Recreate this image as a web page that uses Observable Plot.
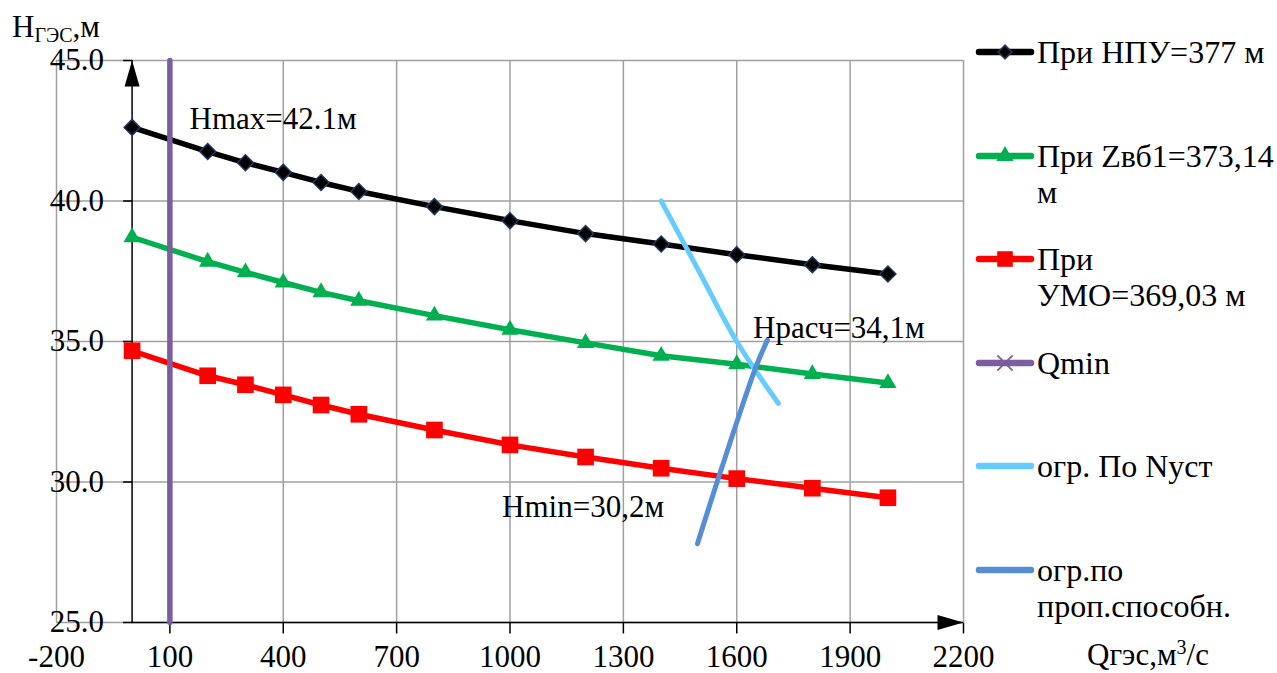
<!DOCTYPE html>
<html><head><meta charset="utf-8">
<script src="https://cdn.jsdelivr.net/npm/d3@7"></script>
<script src="https://cdn.jsdelivr.net/npm/@observablehq/plot@0.6"></script>
<style>
html,body{margin:0;padding:0;background:#fff;overflow:hidden}
#wrap{position:relative;width:1277px;height:673px;font-family:"Liberation Serif","Times New Roman",Tinos,"DejaVu Serif",serif;color:#000}
#wrap > svg{position:absolute;left:0;top:0}
.lg-row{position:absolute;left:975px;width:302px;height:80px}
.lg-row svg{position:absolute;left:0;top:0}
.lg-text{position:absolute;left:62px;top:0;font-size:32px;line-height:36px;white-space:nowrap}
.ttl{position:absolute;font-size:31px;line-height:30px;height:30px;white-space:nowrap}
.ttl span{line-height:0}
</style></head><body><div id="wrap"></div>
<script>
// ---- data ----
const qValues = [0, 200, 300, 400, 500, 600, 800, 1000, 1200, 1400, 1600, 1800, 2000];
const hNPU  = [42.62, 41.76, 41.36, 41.02, 40.66, 40.34, 39.80, 39.30, 38.84, 38.47, 38.09, 37.73, 37.40];
const hZvb1 = [38.71, 37.84, 37.46, 37.10, 36.75, 36.45, 35.92, 35.42, 34.95, 34.49, 34.19, 33.84, 33.52];
const hUMO  = [34.67, 33.78, 33.46, 33.10, 32.74, 32.41, 31.85, 31.32, 30.89, 30.49, 30.12, 29.78, 29.44];
const qminX = [100, 100];
const qminY = [25, 45];
const nustX = [1400, 1500, 1600, 1710];
const nustY = [40.0, 37.5, 35.0, 32.8];
const propX = [1496, 1552, 1650, 1681];
const propY = [27.8, 30.16, 34.07, 35.05];
const xTicks = [-200, 100, 400, 700, 1000, 1300, 1600, 1900, 2200];
const xTickMarks = [100, 400, 700, 1000, 1300, 1600, 1900, 2200];
const yTicks = [25, 30, 35, 40, 45];
const annX = [152, 1643, 979];
const annY = [42.9, 35.49, 29.12];
const annText = ["Hmax=42.1м", "Hрасч=34,1м", "Hmin=30,2м"];
const seriesNames = ["При НПУ=377 м", "При Zвб1=373,14 м", "При УМО=369,03 м", "Qmin", "огр. По Nуст", "огр.по проп.способн."];
const legendLines = [["При НПУ=377 м"], ["При Zвб1=373,14", "м"], ["При", "УМО=369,03 м"], ["Qmin"], ["огр. По Nуст"], ["огр.по", "проп.способн."]];
const seriesColors = ["#000000", "#00B050", "#FF0000", "#7B5E9E", "#66CCFF", "#558ED5"];

// ---- helpers ----
const FONT = "'Liberation Serif', 'Times New Roman', Tinos, 'DejaVu Serif', serif";
const GRID = "#a0a0a0";
const pts = (xs, ys) => xs.map((x, i) => ({x, y: ys[i]}));
const hTick = {draw(c) { c.moveTo(-9, 0); c.lineTo(0, 0); }};
const vTick = {draw(c) { c.moveTo(0, 0); c.lineTo(0, 11); }};
const arrowSym = {draw(c) { c.moveTo(0, 0); c.lineTo(7.5, 26); c.lineTo(-7.5, 26); c.closePath(); }};
const symX = d3.symbolTimes || d3.symbolX;

const sNPU = pts(qValues, hNPU), sZ = pts(qValues, hZvb1), sU = pts(qValues, hUMO);
const sQ = pts(qminX, qminY), sN = pts(nustX, nustY), sP = pts(propX, propY);
const lw = 5.5;

const chart = Plot.plot({
  width: 1277, height: 673,
  marginLeft: 56, marginRight: 314, marginTop: 60, marginBottom: 51,
  x: {domain: [-200, 2200], axis: null},
  y: {domain: [25, 45], axis: null},
  style: {fontFamily: FONT, background: "transparent", overflow: "visible"},
  marks: [
    Plot.ruleX(xTicks, {stroke: GRID, strokeWidth: 1.5}),
    Plot.ruleY(yTicks, {stroke: GRID, strokeWidth: 1.5}),
    Plot.ruleX([0], {y1: 25, y2: 45, stroke: "black", strokeWidth: 1.5}),
    Plot.ruleY([25], {x1: 0, x2: 2200, stroke: "black", strokeWidth: 1.5}),
    Plot.dot(yTicks, {x: 0, y: d => d, symbol: hTick, r: 5, fill: "none", stroke: "black", strokeWidth: 1.5}),
    Plot.dot(xTickMarks, {x: d => d, y: 25, symbol: vTick, r: 5, fill: "none", stroke: "black", strokeWidth: 1.5}),
    Plot.dot([45], {x: 0, y: d => d, symbol: arrowSym, r: 5, fill: "black", stroke: "none"}),
    Plot.dot([2200], {x: d => d, y: 25, symbol: arrowSym, rotate: 90, r: 5, fill: "black", stroke: "none"}),
    Plot.text(yTicks, {x: 0, y: d => d, dx: -28, text: d => d.toFixed(1), textAnchor: "end", lineAnchor: "middle", fontSize: 31, fontFamily: FONT, fill: "black"}),
    Plot.text(xTicks, {x: d => d, y: 25, dy: 35, text: d => String(d), textAnchor: "middle", lineAnchor: "middle", fontSize: 31, fontFamily: FONT, fill: "black"}),
    // series
    Plot.line(sNPU, {x: "x", y: "y", stroke: seriesColors[0], strokeWidth: lw}),
    Plot.dot(sNPU, {x: "x", y: "y", symbol: "diamond2", r: 7.2, fill: "black", stroke: "#1F3A5F", strokeWidth: 1.5}),
    Plot.line(sZ, {x: "x", y: "y", stroke: seriesColors[1], strokeWidth: lw}),
    Plot.dot(sZ, {x: "x", y: "y", symbol: "triangle", r: 6.4, fill: seriesColors[1], stroke: "none"}),
    Plot.line(sU, {x: "x", y: "y", stroke: seriesColors[2], strokeWidth: lw}),
    Plot.dot(sU, {x: "x", y: "y", symbol: "square", r: 9.4, fill: seriesColors[2], stroke: "none"}),
    Plot.line(sQ, {x: "x", y: "y", stroke: seriesColors[3], strokeWidth: lw}),
    Plot.line(sN, {x: "x", y: "y", stroke: seriesColors[4], strokeWidth: 5, curve: "catmull-rom", strokeLinecap: "round"}),
    Plot.line(sP, {x: "x", y: "y", stroke: seriesColors[5], strokeWidth: 5, curve: "catmull-rom", strokeLinecap: "round"}),
    Plot.text(annText, {x: (d, i) => annX[i], y: (d, i) => annY[i], text: d => d, textAnchor: "start", lineAnchor: "middle", fontSize: 31, fontFamily: FONT, fill: "black"})
  ]
});
const wrap = document.getElementById("wrap");
wrap.appendChild(chart);

// ---- axis titles ----
const yT = document.createElement("div");
yT.className = "ttl"; yT.style.left = "12px"; yT.style.top = "12px";
yT.innerHTML = 'H<span style="font-size:20px;vertical-align:-5px">ГЭС</span>,м';
wrap.appendChild(yT);
const xT = document.createElement("div");
xT.className = "ttl"; xT.style.left = "1087px"; xT.style.top = "640px";
xT.innerHTML = 'Qгэс,м<span style="font-size:20px;vertical-align:11px">3</span>/с';
wrap.appendChild(xT);

// ---- legend ----
const legendSymbols = [d3.symbolDiamond2, d3.symbolTriangle, d3.symbolSquare, symX, null, null];
const legendR = [6.2, 6.4, 8.8, 7, 0, 0];
const rowStart = 52, rowStep = 103.6;
seriesNames.forEach((name, i) => {
  const row = document.createElement("div");
  row.className = "lg-row";
  row.style.top = (rowStart + i * rowStep - 18) + "px";
  const sw = d3.create("svg").attr("width", 60).attr("height", 36);
  sw.append("line").attr("x1", 4).attr("x2", 56).attr("y1", 18).attr("y2", 18)
    .attr("stroke", seriesColors[i]).attr("stroke-width", 6.5).attr("stroke-linecap", "round");
  const sym = legendSymbols[i];
  if (sym) {
    const p = sw.append("path").attr("transform", "translate(30,18)")
      .attr("d", d3.symbol(sym, Math.PI * legendR[i] * legendR[i])());
    if (i === 0) p.attr("fill", "black").attr("stroke", "#1F3A5F").attr("stroke-width", 1.5);
    else if (i === 3) p.attr("fill", "none").attr("stroke", seriesColors[3]).attr("stroke-width", 1.8);
    else p.attr("fill", seriesColors[i]);
  }
  row.appendChild(sw.node());
  const t = document.createElement("div");
  t.className = "lg-text";
  t.innerHTML = legendLines[i].join("<br>");
  row.appendChild(t);
  wrap.appendChild(row);
});
</script>
</body></html>
